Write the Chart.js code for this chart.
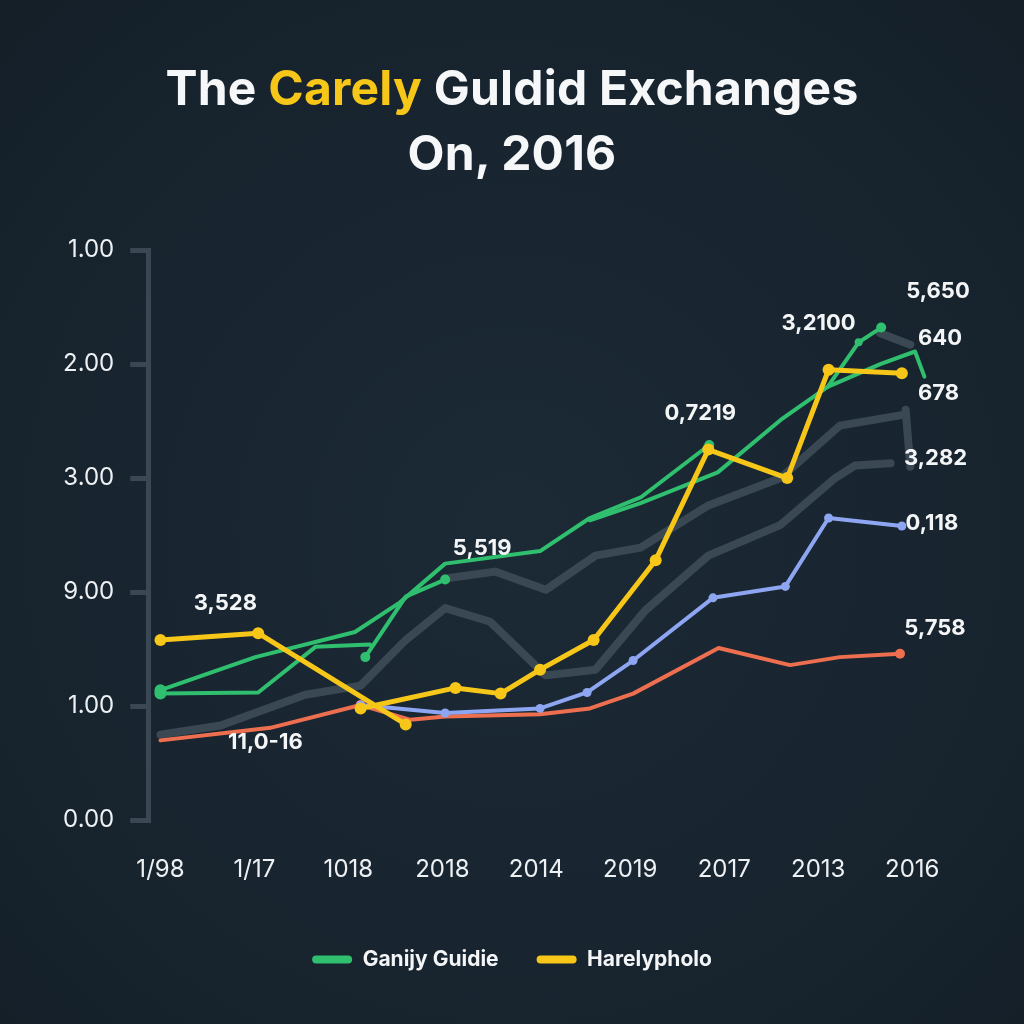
<!DOCTYPE html>
<html>
<head>
<meta charset="utf-8">
<script src="https://cdn.jsdelivr.net/npm/chart.js@4.4.0/dist/chart.umd.min.js"></script>
<style>
  html, body { margin:0; padding:0; width:1024px; height:1024px; overflow:hidden;
    background: radial-gradient(circle at 50% 52%, #1c2a35 0%, #192631 45%, #141f28 100%); }
  #wrap { position:relative; width:1024px; height:1024px; }
  #title { position:absolute; left:0; top:55px; width:1024px; text-align:center;
    font-family: Inter, "Open Sans", sans-serif; font-weight:700; font-size:48px; line-height:65px;
    color:#f6f7f8; letter-spacing:0.2px; }
  #title .hl { color:#f6c619; }
  canvas { position:absolute; left:0; top:0; }
</style>
</head>
<body>
<div id="wrap">
  <canvas id="c" width="1024" height="1024"></canvas>
  <div id="title">The <span class="hl">Carely</span> Guldid Exchanges<br>On, 2016</div>
</div>
<script>
// ---- data ----
const xLabels = ["1/98", "1/17", "1018", "2018", "2014", "2019", "2017", "2013", "2016"];
const yTickLabels = ["0.00", "1.00", "9.00", "3.00", "2.00", "1.00"];
const legendNames = ["Ganijy Guidie", "Harelypholo"];

const yellowX = [0, 1.04, 2.61, null, 2.13, 3.14, 3.62, 4.04, 4.61, 5.27, 5.83, 6.67, 7.11, 7.89];
const yellowY = [1.58, 1.64, 0.84, null, 0.98, 1.16, 1.11, 1.32, 1.58, 2.28, 3.25, 3.00, 3.95, 3.92];

const greenAX = [0, 1.01, 2.07, 2.55, 3.03, 4.04, 4.57, 5.11, 5.84];
const greenAY = [1.14, 1.43, 1.65, 1.91, 2.25, 2.36, 2.65, 2.83, 3.29];

const greenBX = [0, 1.04, 1.65, 2.23, null, 2.18, 2.61, 3.03];
const greenBY = [1.11, 1.12, 1.52, 1.54, null, 1.43, 1.96, 2.11];

const greenCX = [4.57, 5.11, 5.93, 6.60, 7.10, 7.43, 7.67];
const greenCY = [2.63, 2.78, 3.05, 3.51, 3.80, 4.19, 4.32];

const greenDX = [7.10, 7.66, 8.03, 8.13];
const greenDY = [3.80, 4.00, 4.11, 3.89];

const blueX = [2.13, 3.03, 4.04, 4.54, 5.03, 5.88, 6.65, 7.11, 7.89];
const blueY = [1.01, 0.94, 0.98, 1.12, 1.40, 1.95, 2.05, 2.65, 2.58];

const redX = [0, 1.17, 2.13, 2.66, 3.03, 4.04, 4.57, 5.03, 5.94, 6.70, 7.23, 7.87];
const redY = [0.70, 0.81, 1.01, 0.88, 0.91, 0.93, 0.98, 1.11, 1.51, 1.36, 1.43, 1.46];

const gray1X = [0, 0.64, 1.54, 2.13, 2.61, 3.03, 3.51, 4.10, 4.63, 5.16, 5.83, 6.60, 7.18, 7.39, 7.77];
const gray1Y = [0.75, 0.83, 1.10, 1.18, 1.58, 1.86, 1.74, 1.27, 1.32, 1.84, 2.32, 2.59, 3.00, 3.11, 3.13];

const gray2X = [3.03, 3.56, 4.10, 4.63, 5.11, 5.83, 6.60, 7.23, 7.87, null, 7.66, 7.98, null, 7.93, 7.98];
const gray2Y = [2.12, 2.18, 2.02, 2.32, 2.39, 2.76, 3.00, 3.46, 3.55, null, 4.27, 4.17, null, 3.60, 3.10];

// value labels: text anchored to a series point
const valueLabels = [
  { text: "3,528",   series: "yellow", idx: 0 },
  { text: "11,0-16", series: "red",    idx: 1 },
  { text: "5,519",   series: "greenA", idx: 4 },
  { text: "0,7219",  series: "greenA", idx: 8 },
  { text: "3,2100",  series: "greenC", idx: 5 },
  { text: "5,650",   series: "greenD", idx: 2 },
  { text: "640",     series: "greenD", idx: 2 },
  { text: "678",     series: "greenD", idx: 3 },
  { text: "3,282",   series: "gray1",  idx: 14 },
  { text: "0,118",   series: "blue",   idx: 8 },
  { text: "5,758",   series: "red",    idx: 11 }
];
// pixel offsets for labels (layout, not data)
const labelOffsets = [[65,-37],[-5,15],[37,-15],[-9,-32],[-40,-19],[23,-60],[25,-13],[14,17],[45,-5],[30,-3],[35,-25]];

function pts(xs, ys) { return xs.map((x, i) => ({ x: x, y: ys[i] })); }

const COL = { green: "#2fbf6f", yellow: "#f6c619", blue: "#8ea6f2", red: "#ee6f4f", gray: "#3a4853" };
const FONT = "Inter, 'Open Sans', sans-serif";

const datasets = [
  { id: "yellow", label: legendNames[1], data: pts(yellowX, yellowY), borderColor: COL.yellow, backgroundColor: COL.yellow, borderWidth: 5, pointRadius: 6 },
  { id: "greenA", label: legendNames[0], data: pts(greenAX, greenAY), borderColor: COL.green, backgroundColor: COL.green, borderWidth: 4, pointRadius: [6,0,0,0,0,0,0,0,5] },
  { id: "greenB", label: "g2", data: pts(greenBX, greenBY), borderColor: COL.green, backgroundColor: COL.green, borderWidth: 4, pointRadius: [6,0,0,0,0,5,0,5] },
  { id: "greenC", label: "g3", data: pts(greenCX, greenCY), borderColor: COL.green, backgroundColor: COL.green, borderWidth: 4, pointRadius: [0,0,0,0,0,4,5] },
  { id: "greenD", label: "g4", data: pts(greenDX, greenDY), borderColor: COL.green, backgroundColor: COL.green, borderWidth: 4, pointRadius: 0 },
  { id: "blue", label: "b", data: pts(blueX, blueY), borderColor: COL.blue, backgroundColor: COL.blue, borderWidth: 4, pointRadius: 4.5 },
  { id: "red", label: "r", data: pts(redX, redY), borderColor: COL.red, backgroundColor: COL.red, borderWidth: 4, pointRadius: [0,0,5,0,0,0,0,0,0,0,0,5] },
  { id: "gray1", label: "k1", data: pts(gray1X, gray1Y), borderColor: COL.gray, backgroundColor: COL.gray, borderWidth: 8, pointRadius: 0 },
  { id: "gray2", label: "k2", data: pts(gray2X, gray2Y), borderColor: COL.gray, backgroundColor: COL.gray, borderWidth: 8, pointRadius: 0 }
];
datasets.forEach(d => { d.spanGaps = false; d.borderCapStyle = "round"; d.borderJoinStyle = "round"; d.pointBorderWidth = 0; });

const labelPlugin = {
  id: "valueLabels",
  afterLayout(chart) {
    // center the legend on the page rather than on the padded box
    const lg = chart.legend;
    if (lg) {
      const shift = 512 - (lg.left + lg.right) / 2;
      lg.left += shift; lg.right += shift;
    }
  },
  afterDatasetsDraw(chart) {
    const ctx = chart.ctx;
    ctx.save();
    ctx.font = "700 22px " + FONT;
    ctx.fillStyle = "#f3f5f7";
    ctx.textAlign = "center";
    ctx.textBaseline = "middle";
    valueLabels.forEach((l, i) => {
      const di = datasets.findIndex(d => d.id === l.series);
      const el = chart.getDatasetMeta(di).data[l.idx];
      ctx.fillText(l.text, el.x + labelOffsets[i][0], el.y + labelOffsets[i][1]);
    });
    ctx.restore();
  }
};

new Chart(document.getElementById("c"), {
  type: "line",
  data: { datasets: datasets },
  plugins: [labelPlugin],
  options: {
    responsive: false,
    animation: false,
    layout: { padding: { top: 250, left: 47, right: 93, bottom: 44 } },
    plugins: {
      tooltip: { enabled: false },
      title: { display: false },
      legend: {
        position: "bottom",
        labels: {
          color: "#f3f5f7",
          font: { family: FONT, size: 21, weight: "700" },
          boxWidth: 40, boxHeight: 8, useBorderRadius: true, borderRadius: 4, padding: 38,
          generateLabels: () => [
            { text: legendNames[0], fillStyle: COL.green, strokeStyle: COL.green, lineWidth: 0, fontColor: "#f3f5f7", borderRadius: 4, datasetIndex: 1 },
            { text: legendNames[1], fillStyle: COL.yellow, strokeStyle: COL.yellow, lineWidth: 0, fontColor: "#f3f5f7", borderRadius: 4, datasetIndex: 0 }
          ]
        },
        onClick: () => {}
      }
    },
    scales: {
      x: {
        type: "linear", min: -0.13, max: 8.2,
        afterBuildTicks: s => { s.ticks = xLabels.map((_, i) => ({ value: i })); },
        ticks: { color: "#eef1f4", font: { family: FONT, size: 24 }, padding: 27, maxRotation: 0, autoSkip: false,
          callback: v => xLabels[v] },
        grid: { display: false },
        border: { display: false }
      },
      y: {
        type: "linear", min: 0, max: 5,
        afterBuildTicks: s => { s.ticks = yTickLabels.map((_, i) => ({ value: i })); },
        ticks: { color: "#eef1f4", font: { family: FONT, size: 24 }, padding: 16,
          callback: v => yTickLabels[v] },
        grid: { drawOnChartArea: false, drawTicks: true, tickLength: 18, color: "#3a4853", lineWidth: 5 },
        border: { display: true, color: "#3a4853", width: 5 }
      }
    }
  }
});
</script>
</body>
</html>
